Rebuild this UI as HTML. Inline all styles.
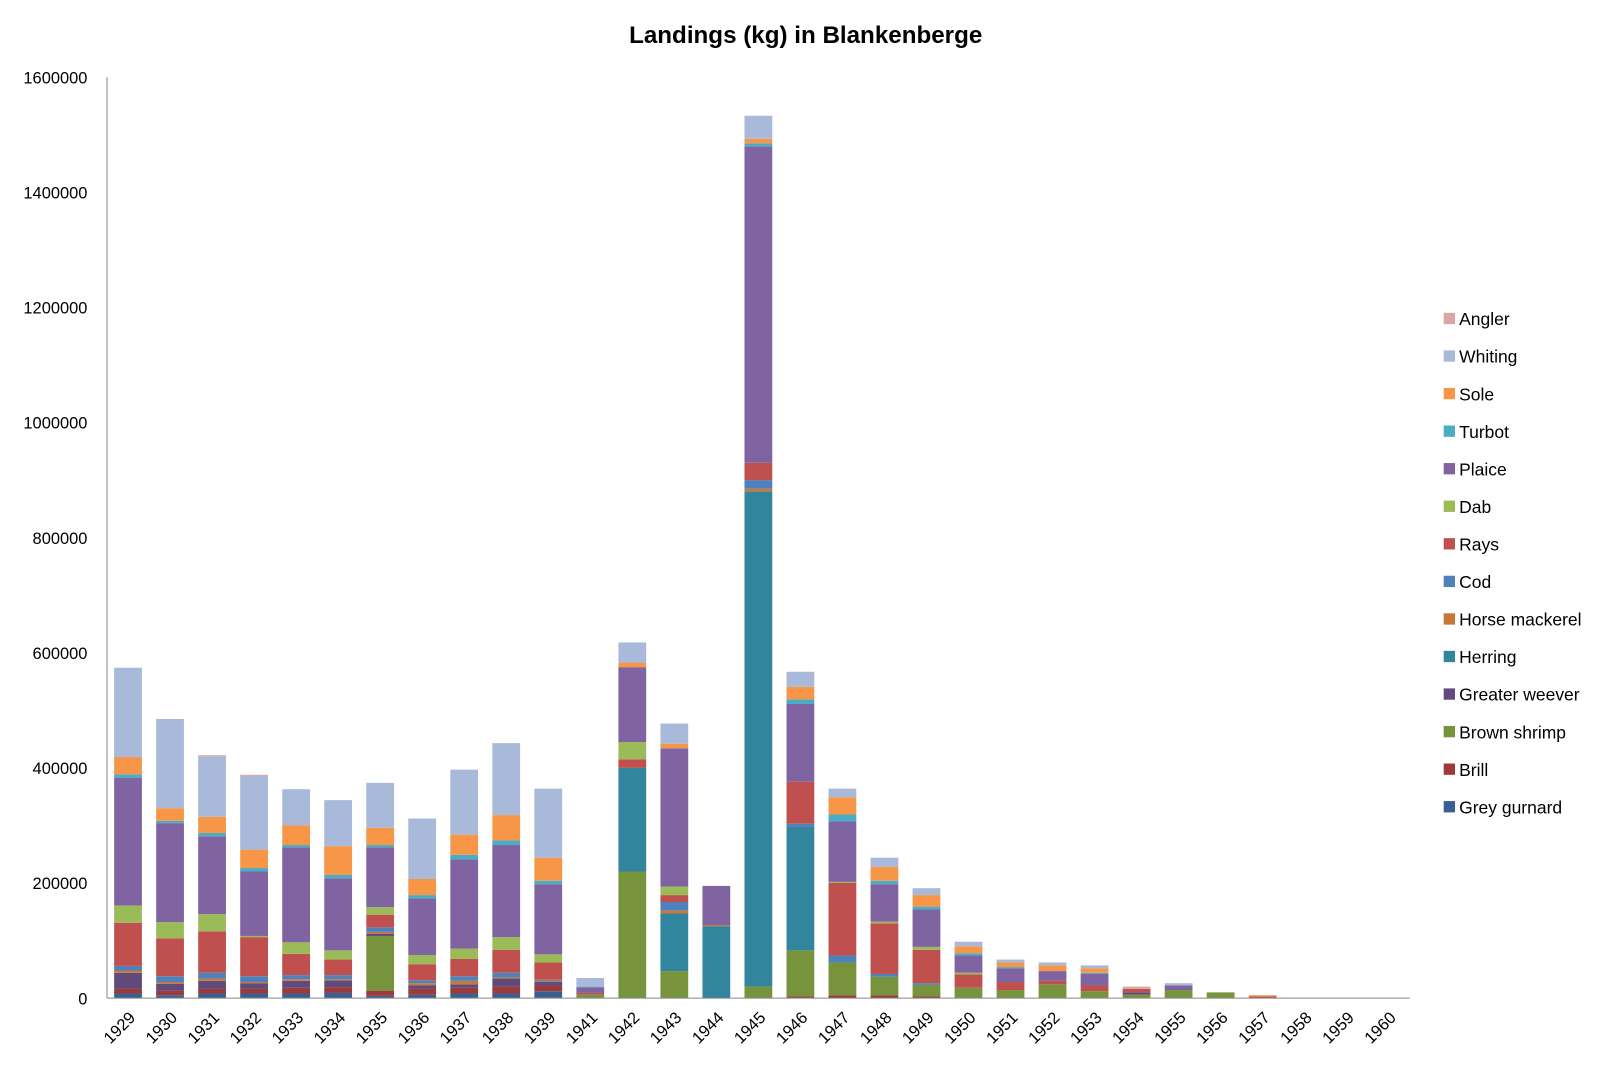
<!DOCTYPE html>
<html><head><meta charset="utf-8"><style>
html,body{margin:0;padding:0;background:#fff;}
svg{display:block;font-family:"Liberation Sans",sans-serif;}
</style></head><body>
<svg width="1614" height="1074" xmlns="http://www.w3.org/2000/svg">
<g id="c" transform="scale(1.029)">
<text x="783" y="42" text-anchor="middle" font-size="23.5" font-weight="bold" fill="#000">Landings (kg) in Blankenberge</text>
</g>
</svg>
<script>
var S=["Grey gurnard","Brill","Brown shrimp","Greater weever","Herring","Horse mackerel","Cod","Rays","Dab","Plaice","Turbot","Sole","Whiting","Angler"];
var C=["#3A5F93","#9B3A38","#77933C","#604A7B","#31859C","#C77838","#4F81BD","#C0504D","#9BBB59","#8064A2","#4BACC6","#F79646","#A9B9D9","#D9A5A5"];
var D={
"1929":[8,8,0,28,0,4,8,75,30,222,6,30,155,0],
"1930":[5,8,0,12,0,3,10,66,28,172,4,22,155,0],
"1931":[8,8,0,14,0,4,10,72,30,135,6,28,105,2],
"1932":[8,8,0,10,0,2,10,68,2,112,6,32,128,2],
"1933":[8,10,0,12,0,3,7,37,20,165,4,34,63,0],
"1934":[9,10,0,12,0,2,7,27,16,125,6,50,80,0],
"1935":[4,9,95,4,0,3,8,22,13,104,4,30,78,0],
"1936":[6,10,0,6,0,4,5,28,16,98,6,28,105,0],
"1937":[8,10,0,6,0,6,8,30,18,155,8,35,113,0],
"1938":[8,12,0,14,0,2,8,40,22,160,8,44,125,0],
"1939":[12,10,0,6,0,2,2,30,14,122,6,40,120,0],
"1941":[0,0,6,0,0,0,0,3,0,10,1,0,15,0],
"1942":[0,0,220,0,180,0,0,15,30,130,0,8,35,0],
"1943":[0,0,47,0,100,5,15,12,15,240,0,8,35,0],
"1944":[0,0,0,0,125,2,0,0,0,68,0,0,0,0],
"1945":[0,0,20,0,860,5,15,30,0,550,5,8,40,0],
"1946":[0,3,80,0,215,0,5,73,0,135,8,22,26,0],
"1947":[0,5,57,0,0,0,12,126,2,105,12,30,15,0],
"1948":[0,5,32,0,0,0,5,88,3,65,6,24,16,0],
"1949":[0,3,20,0,0,0,3,58,5,65,5,20,12,0],
"1950":[0,0,18,0,0,0,0,23,3,30,4,12,8,0],
"1951":[0,0,14,0,0,0,0,14,0,24,2,8,5,0],
"1952":[0,0,24,0,0,0,0,6,0,17,0,10,5,0],
"1953":[0,0,12,0,0,0,0,10,0,20,2,8,5,0],
"1954":[0,0,6,4,0,0,0,6,0,0,0,0,0,4],
"1955":[0,0,14,0,0,0,0,0,0,8,0,0,4,0],
"1956":[0,0,10,0,0,0,0,0,0,0,0,0,0,0],
"1957":[0,0,0,0,0,0,0,3,0,0,0,2,0,0],
"1958":[],"1959":[],"1960":[]};
var yrs=["1929","1930","1931","1932","1933","1934","1935","1936","1937","1938","1939","1941","1942","1943","1944","1945","1946","1947","1948","1949","1950","1951","1952","1953","1954","1955","1956","1957","1958","1959","1960"];
var g=document.getElementById('c'),h='';
var x0=104,y0=970,x1=1370,k=895/1600;
for(var v=0;v<=1600000;v+=200000){var y=y0-v/1000*k;
 h+='<text x="85" y="'+(y+6)+'" text-anchor="end" font-size="16" fill="#000">'+v+'</text>';}
h+='<line x1="'+x0+'" y1="75" x2="'+x0+'" y2="'+y0+'" stroke="#888"/>';
var n=yrs.length,sl=(x1-x0)/n;
yrs.forEach(function(yr,i){var cx=x0+sl*(i+0.5),cum=0,d=D[yr];
 for(var j=0;j<d.length;j++){if(!d[j])continue;var t=y0-(cum+d[j])*k,b=y0-cum*k;
  h+='<rect x="'+(cx-13.5)+'" y="'+t+'" width="27" height="'+(b-t)+'" fill="'+C[j]+'"/>';cum+=d[j];}
 h+='<text transform="translate('+(cx+8)+',990) rotate(-45)" text-anchor="end" font-size="16" fill="#000">'+yr+'</text>';
});
h+='<line x1="'+x0+'" y1="'+y0+'" x2="'+x1+'" y2="'+y0+'" stroke="#888"/>';
for(var j=13;j>=0;j--){var r=13-j,y=310+r*36.5;
 h+='<rect x="1403" y="'+(y-6)+'" width="11" height="11" fill="'+C[j]+'"/>';
 h+='<text x="1418" y="'+(y+6)+'" font-size="17" fill="#000">'+S[j]+'</text>';}
g.insertAdjacentHTML('beforeend',h);
</script>
</body></html>
